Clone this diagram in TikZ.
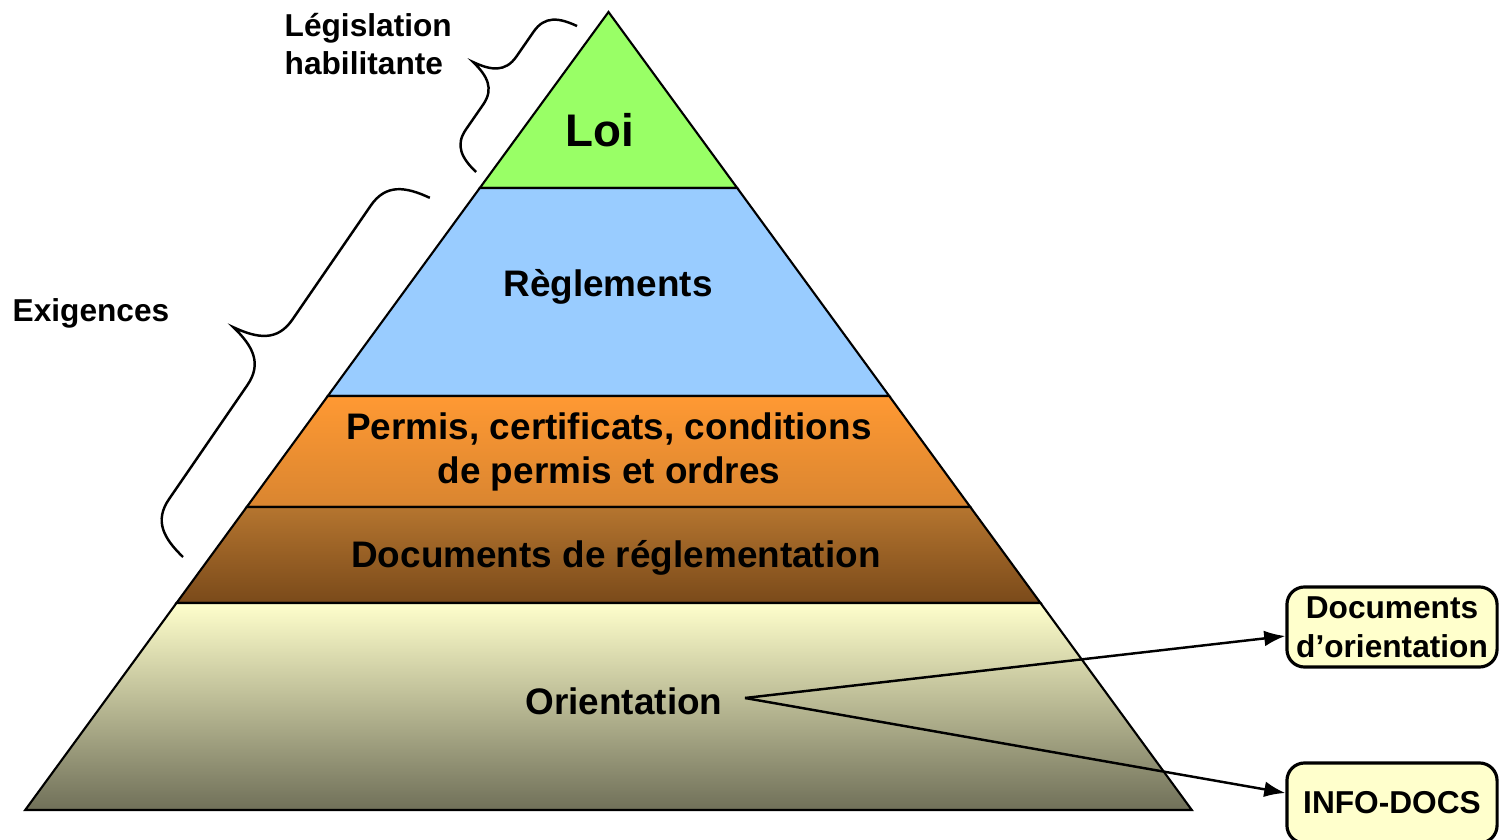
\documentclass[tikz,border=0pt]{standalone}
\usepackage{fontspec}
\setmainfont{Liberation Sans}
\usetikzlibrary{arrows.meta}
\definecolor{loigreen}{HTML}{99FF66}
\definecolor{reglblue}{HTML}{99CCFF}
\definecolor{permistop}{HTML}{FF9933}
\definecolor{permisbot}{HTML}{D98530}
\definecolor{brunhaut}{HTML}{B5752F}
\definecolor{brunbas}{HTML}{7A4A1A}
\definecolor{creme}{HTML}{FFFFCC}
\definecolor{olive}{HTML}{707059}
\tikzset{
  layer/.style={draw=black, line width=0.6pt},
  lbl/.style={font=\fontsize{10.5}{12.6}\selectfont\bfseries, align=center},
  side/.style={font=\fontsize{9}{10.8}\selectfont\bfseries, align=left, inner sep=0pt},
  docbox/.style={draw=black, line width=0.9pt, rounded corners=5pt, fill=creme,
    font=\fontsize{9}{11}\selectfont\bfseries, align=center,
    minimum width=2.1cm, minimum height=0.8cm, inner sep=1pt},
  bracket/.style={line width=0.7pt},
  link/.style={-{Latex[length=6pt,width=4.5pt]}, line width=0.7pt},
}
% curly brace: start x, start y, angle, length, amplitude (px)
\newcommand{\accolade}[5]{%
  \begin{scope}[shift={(#1,#2)}, x=0.01cm, y=0.01cm, rotate=#3]
    \pgfmathsetmacro{\hl}{#4/2}
    \pgfmathsetmacro{\am}{#5}
    \draw[bracket] (0,0) .. controls (0.05*\am,0.3*\am) and (0.15*\am,0.5*\am) .. (0.45*\am,0.5*\am)
      -- (\hl-0.45*\am,0.5*\am) .. controls (\hl-0.15*\am,0.5*\am) and (\hl-0.05*\am,0.7*\am) .. (\hl,\am)
      .. controls (\hl+0.05*\am,0.7*\am) and (\hl+0.15*\am,0.5*\am) .. (\hl+0.45*\am,0.5*\am)
      -- (#4-0.45*\am,0.5*\am) .. controls (#4-0.15*\am,0.5*\am) and (#4-0.05*\am,0.3*\am) .. (#4,0);
  \end{scope}}
\begin{document}
\begin{tikzpicture}[x=0.01cm, y=-0.01cm]
    \useasboundingbox (0,0) rectangle (1500,840);
    % pyramid layers
    \path[layer, fill=loigreen] (608.5,12) -- (737.2,188) -- (479.8,188) -- cycle;
    \path[layer, fill=reglblue] (479.8,188) -- (737.2,188) -- (889.2,396) -- (327.8,396) -- cycle;
    \path[layer, top color=permistop, bottom color=permisbot] (327.8,396) -- (889.2,396) -- (970.3,507) -- (246.7,507) -- cycle;
    \path[layer, top color=brunhaut, bottom color=brunbas] (246.7,507) -- (970.3,507) -- (1040.5,603) -- (176.5,603) -- cycle;
    \path[layer, top color=creme, bottom color=olive] (176.5,603) -- (1040.5,603) -- (1191.8,810) -- (25.2,810) -- cycle;
    \node[lbl, font=\fontsize{13}{15}\selectfont\bfseries] (loi) at (600,130) {Loi};
    \node[lbl] (regl) at (608,287) {Règlements};
    \node[lbl] (permis) at (609,452) {Permis, certificats, conditions\\de permis et ordres};
    \node[lbl] (docsreg) at (616,558) {Documents de réglementation};
    \node[lbl] (orient) at (624,701) {Orientation};
    % braces on the left
    \accolade{476}{172}{55.3}{177.5}{65}
    \accolade{183}{557}{55.5}{435.8}{88.6}
    \node[side, anchor=west] (legis) at (284,44) {Législation\\habilitante};
    \node[side, anchor=west] (exig) at (12,313) {Exigences};
    % documents on the right
    \node[docbox] (docor) at (1392,627) {Documents\\d’orientation};
    \node[docbox] (info) at (1392,803) {INFO-DOCS};
    \coordinate (fork) at (745,698);
    \draw[link] (fork) -- ([yshift=-0.09cm]docor.west);
    \draw[link] (fork) -- ([yshift=0.1cm]info.west);
\end{tikzpicture}
\end{document}
